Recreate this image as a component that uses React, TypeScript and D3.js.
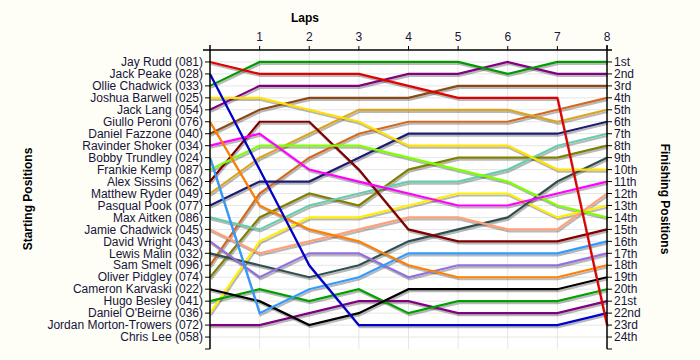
import React from "react";
import * as d3 from "d3";

// starting grid order (rank 1..24)
const drivers = [
  "Jay Rudd (081)",
  "Jack Peake (028)",
  "Ollie Chadwick (033)",
  "Joshua Barwell (025)",
  "Jack Lang (054)",
  "Giullo Peroni (076)",
  "Daniel Fazzone (040)",
  "Ravinder Shoker (034)",
  "Bobby Trundley (024)",
  "Frankie Kemp (087)",
  "Alex Sissins (062)",
  "Matthew Ryder (049)",
  "Pasqual Pook (077)",
  "Max Aitken (086)",
  "Jamie Chadwick (045)",
  "David Wright (043)",
  "Lewis Malin (032)",
  "Sam Smelt (096)",
  "Oliver Pidgley (074)",
  "Cameron Karvaski (022)",
  "Hugo Besley (041)",
  "Daniel O'Beirne (036)",
  "Jordan Morton-Trowers (072)",
  "Chris Lee (058)",
];

const colors = [
  "#e00000", "#0000cc", "#009a00", "#ffe000", "#800080", "#ff7f00",
  "#8b4a14", "#ff00ff", "#3399ff", "#7fff00", "#800000", "#daa520",
  "#1c1c70", "#66cdaa", "#ffa07a", "#9370db", "#2f4f4f", "#d2691e",
  "#808000", "#000000", "#00a000", "#ffee00", "#800080", "#888888",
];

// position per lap 0..8, one row per driver (Chris Lee has no laps)
const positions: (number[] | null)[] = [
  [1, 2, 2, 2, 3, 4, 4, 4, 23],
  [2, 10, 18, 23, 23, 23, 23, 23, 22],
  [3, 1, 1, 1, 1, 1, 2, 1, 1],
  [4, 4, 5, 6, 8, 8, 8, 10, 10],
  [5, 3, 3, 3, 2, 2, 1, 2, 2],
  [6, 13, 15, 16, 18, 19, 19, 19, 18],
  [7, 5, 4, 4, 4, 3, 3, 3, 3],
  [8, 7, 10, 11, 12, 13, 13, 12, 11],
  [9, 22, 20, 19, 17, 17, 17, 17, 16],
  [10, 8, 8, 8, 9, 10, 11, 13, 14],
  [11, 6, 6, 10, 15, 16, 16, 16, 15],
  [12, 9, 7, 5, 5, 5, 5, 6, 5],
  [13, 11, 11, 9, 7, 7, 7, 7, 6],
  [14, 15, 13, 12, 11, 11, 10, 8, 7],
  [15, 17, 16, 15, 14, 14, 15, 15, 12],
  [16, 19, 17, 17, 19, 18, 18, 18, 17],
  [17, 18, 19, 18, 16, 15, 14, 11, 9],
  [18, 12, 9, 7, 6, 6, 6, 5, 4],
  [19, 14, 12, 13, 10, 9, 9, 9, 8],
  [20, 21, 23, 22, 20, 20, 20, 20, 19],
  [21, 20, 21, 20, 22, 21, 21, 21, 20],
  [22, 16, 14, 14, 13, 12, 12, 14, 13],
  [23, 23, 22, 21, 21, 22, 22, 22, 21],
  null,
];

const laps = [1, 2, 3, 4, 5, 6, 7, 8];
const finishLabels = [
  "1st", "2nd", "3rd", "4th", "5th", "6th", "7th", "8th", "9th", "10th",
  "11th", "12th", "13th", "14th", "15th", "16th", "17th", "18th", "19th",
  "20th", "21st", "22nd", "23rd", "24th",
];

const W = 700;
const H = 360;
const left = 210;
const right = 607;
const top = 50;
const bottom = 349;
const textColor = "#14143c";

export default function App() {
  const x = d3.scaleLinear().domain([0, 8]).range([left, right]);
  const y = d3.scaleLinear().domain([0, 25]).range([top, bottom]);
  const line = d3
    .line<number>()
    .x((_, i) => x(i))
    .y((d) => y(d));
  const rows = d3.range(1, 25);

  const series = positions
    .map((p, i) => ({ p, i }))
    .filter((s) => s.p !== null)
    .reverse();

  return (
    <svg
      width={W}
      height={H}
      style={{ position: "absolute", left: 0, top: 0, background: "#fffef6" }}
      fontFamily="'Liberation Sans', Arial, sans-serif"
    >
      <rect x={left} y={top} width={right - left} height={bottom - top} fill="#ffffff" />
      {/* grid */}
      {rows.map((r) => (
        <line key={"h" + r} x1={left} x2={right} y1={y(r)} y2={y(r)} stroke="#e6e6e6" />
      ))}
      {laps.slice(0, 7).map((l) => (
        <line key={"v" + l} x1={x(l)} x2={x(l)} y1={top} y2={bottom} stroke="#e6e6e6" />
      ))}

      {/* shadows */}
      {series.map(({ p, i }) => (
        <path
          key={"s" + i}
          d={line(p as number[]) || ""}
          transform="translate(1,2)"
          fill="none"
          stroke="#000"
          strokeOpacity={0.28}
          strokeWidth={2.2}
        />
      ))}
      {series.map(({ p, i }) => (
        <path
          key={"l" + i}
          d={line(p as number[]) || ""}
          fill="none"
          stroke={colors[i]}
          strokeWidth={2.2}
        />
      ))}

      {/* axes */}
      <g stroke="#000" strokeWidth={1.5}>
        <line x1={left - 7} x2={right + 5} y1={top} y2={top} />
        <line x1={left} x2={left} y1={top - 5} y2={bottom} />
        <line x1={right} x2={right} y1={top - 5} y2={bottom} />
      </g>
      <g stroke="#000">
        {laps.map((l) => (
          <line key={"tt" + l} x1={x(l)} x2={x(l)} y1={top - 4} y2={top} />
        ))}
        {rows.concat([25]).map((r) => (
          <line key={"lt" + r} x1={left - 5} x2={left} y1={y(r)} y2={y(r)} />
        ))}
        {rows.concat([25]).map((r) => (
          <line key={"rt" + r} x1={right} x2={right + 5} y1={y(r)} y2={y(r)} />
        ))}
      </g>

      {/* labels */}
      <g fontSize={12} fill={textColor}>
        {laps.map((l) => (
          <text key={"lx" + l} x={x(l)} y={top - 9} textAnchor="middle">
            {l}
          </text>
        ))}
        {drivers.map((d, i) => (
          <text key={"dn" + i} x={left - 7} y={y(i + 1)} dy="0.35em" textAnchor="end">
            {d}
          </text>
        ))}
        {finishLabels.map((f, i) => (
          <text key={"fl" + i} x={right + 7} y={y(i + 1)} dy="0.35em">
            {f}
          </text>
        ))}
      </g>

      <g fontSize={12} fontWeight="bold" fill="#000">
        <text x={305} y={22} textAnchor="middle">
          Laps
        </text>
        <text transform="translate(32,199) rotate(-90)" textAnchor="middle">
          Starting Positions
        </text>
        <text transform="translate(661,199) rotate(90)" textAnchor="middle">
          Finishing Positions
        </text>
      </g>
    </svg>
  );
}
